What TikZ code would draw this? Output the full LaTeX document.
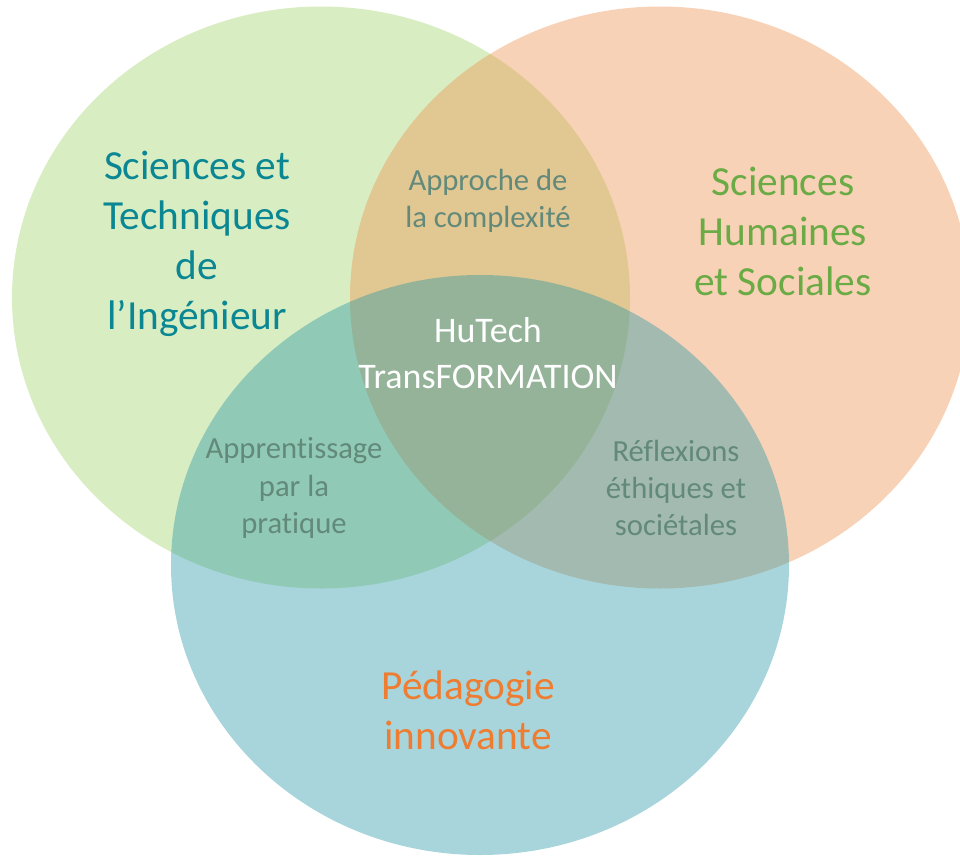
\documentclass[tikz,border=0pt]{standalone}
\usepackage{fontspec}
\setmainfont{Carlito}[Ligatures=NoCommon]
\definecolor{cgreen}{HTML}{A0D269}
\definecolor{corange}{HTML}{EE8E48}
\definecolor{cblue}{HTML}{2396A5}
\definecolor{tteal}{HTML}{0A8792}
\definecolor{tgreen}{HTML}{6AAB45}
\definecolor{torange}{HTML}{EE7D32}
\definecolor{tgray}{HTML}{62897A}
\tikzset{
  disc/.style={fill opacity=0.4},
  bigtxt/.style={align=center, inner sep=0pt, font=\fontsize{31}{37.5}\selectfont},
  midtxt/.style={align=center, inner sep=0pt, font=\fontsize{27}{35}\selectfont, text=white},
  smalltxt/.style={align=center, inner sep=0pt, font=\fontsize{23}{28}\selectfont, text=tgray}
}
\begin{document}
\begin{tikzpicture}[x=0.75pt,y=-0.75pt]
\useasboundingbox (0,0) rectangle (960,856);
\clip (0,0) rectangle (960,856);
\fill[cgreen, disc] (321,297.5) ellipse [x radius=231.75pt, y radius=218.25pt];
\fill[corange, disc] (660,297.5) ellipse [x radius=232.5pt, y radius=218.25pt];
\fill[cblue, disc] (480,565) ellipse [x radius=231.75pt, y radius=217.5pt];
\node[bigtxt, text=tteal] (sti) at (197,244) {Sciences et\\Techniques\\de\\l’Ingénieur};
\node[bigtxt, text=tgreen] (shs) at (783,231) {Sciences\\Humaines\\et Sociales};
\node[bigtxt, text=torange] (ped) at (468,710) {Pédagogie\\innovante};
\node[midtxt] (hut) at (488,353) {HuTech\\TransFORMATION};
\node[smalltxt] (cpx) at (488,201) {Approche de\\la complexité};
\node[smalltxt] (app) at (294,488) {Apprentissage\\par la\\pratique};
\node[smalltxt] (ref) at (676,488) {Réflexions\\éthiques et\\sociétales};
\end{tikzpicture}
\end{document}
